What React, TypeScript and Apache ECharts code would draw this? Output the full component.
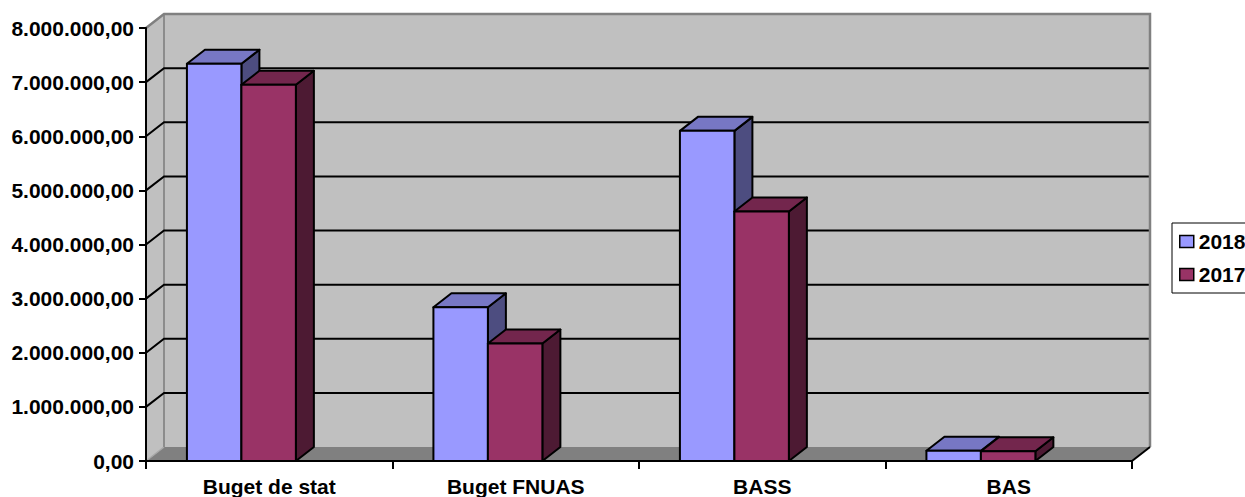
import React, { useEffect, useRef } from "react";
import * as echarts from "echarts";

const categories = ["Buget de stat", "Buget FNUAS", "BASS", "BAS"];
const seriesNames = ["2018", "2017"];
const values2018 = [7340000, 2840000, 6100000, 190000];
const values2017 = [6950000, 2170000, 4610000, 180000];
const yTicks = [0, 1000000, 2000000, 3000000, 4000000, 5000000, 6000000, 7000000, 8000000];

const FONT = "'Liberation Sans', Arial, Helvetica, sans-serif";
const FS = 21;
const DX = 18;
const DY = 14;
const BAR_START = 0.166;
const BAR_W = 0.221;

const palette = [
  { front: "#9999ff", top: "#7777c4", side: "#4d4d80" },
  { front: "#993366", top: "#73264d", side: "#4d1a33" },
];

function fmt(v: number): string {
  return Math.round(v).toString().replace(/\B(?=(\d{3})+(?!\d))/g, ".") + ",00";
}

function barRenderer(sIdx: number) {
  return (params: any, api: any) => {
    const idx = api.value(0);
    const val = api.value(1);
    const base = api.coord([idx, 0]);
    const top = api.coord([idx, val]);
    const band = api.size([1, 0])[0];
    const catStart = base[0] - band / 2;
    const w = band * BAR_W;
    const x0 = catStart + band * (BAR_START + sIdx * BAR_W);
    const yb = base[1];
    const yt = top[1];
    const c = palette[sIdx];
    const stroke = { stroke: "#000", lineWidth: 2, lineJoin: "round" };
    return {
      type: "group",
      children: [
        {
          type: "polygon",
          shape: { points: [[x0 + w, yt], [x0 + w + DX, yt - DY], [x0 + w + DX, yb - DY], [x0 + w, yb]] },
          style: { fill: c.side, ...stroke },
        },
        {
          type: "polygon",
          shape: { points: [[x0, yt], [x0 + w, yt], [x0 + w + DX, yt - DY], [x0 + DX, yt - DY]] },
          style: { fill: c.top, ...stroke },
        },
        {
          type: "rect",
          shape: { x: x0, y: yt, width: w, height: yb - yt },
          style: { fill: c.front, ...stroke },
        },
      ],
    };
  };
}

function backdropRenderer(params: any, api: any) {
  const band = api.size([1, 0])[0];
  const xL = api.coord([0, 0])[0] - band / 2;
  const xR = api.coord([categories.length - 1, 0])[0] + band / 2;
  const yB = api.coord([0, yTicks[0]])[1];
  const yT = api.coord([0, yTicks[yTicks.length - 1]])[1];
  const children: any[] = [];
  children.push({
    type: "rect",
    shape: { x: xL + DX, y: yT - DY, width: xR - xL, height: yB - yT },
    style: { fill: "#c0c0c0" },
  });
  children.push({
    type: "polygon",
    shape: { points: [[xL, yT], [xL + DX, yT - DY], [xL + DX, yB - DY], [xL, yB]] },
    style: { fill: "#c0c0c0" },
  });
  children.push({
    type: "polygon",
    shape: { points: [[xL, yB], [xR, yB], [xR + DX, yB - DY], [xL + DX, yB - DY]] },
    style: { fill: "#808080" },
  });
  children.push({
    type: "line",
    shape: { x1: xL, y1: yB, x2: xL + DX, y2: yB - DY },
    style: { stroke: "#a8a8a8", lineWidth: 1.5 },
  });
  children.push({
    type: "line",
    shape: { x1: xL + DX, y1: yT - DY, x2: xL + DX, y2: yB - DY },
    style: { stroke: "#8c8c8c", lineWidth: 2 },
  });
  for (let i = 1; i < yTicks.length - 1; i++) {
    const y = api.coord([0, yTicks[i]])[1];
    children.push({
      type: "polyline",
      shape: { points: [[xL, y], [xL + DX, y - DY], [xR + DX, y - DY]] },
      style: { stroke: "#000", lineWidth: 2, fill: null },
    });
  }
  children.push({
    type: "polyline",
    shape: { points: [[xL, yT], [xL + DX, yT - DY], [xR + DX, yT - DY], [xR + DX, yB - DY]] },
    style: { stroke: "#808080", lineWidth: 2.5, fill: null },
  });
  children.push({
    type: "line",
    shape: { x1: xR, y1: yB, x2: xR + DX, y2: yB - DY },
    style: { stroke: "#000", lineWidth: 2 },
  });
  return { type: "group", children };
}

export default function App() {
  const ref = useRef<HTMLDivElement>(null);
  useEffect(() => {
    if (!ref.current) return;
    const chart = echarts.init(ref.current, undefined, { renderer: "svg" });
    const dataSets = [values2018, values2017];
    chart.setOption({
      animation: false,
      backgroundColor: "#ffffff",
      textStyle: { fontFamily: FONT },
      grid: { left: 146, right: 113, top: 28, bottom: 36, containLabel: false },
      legend: {
        orient: "vertical",
        left: 1172,
        top: 223,
        padding: [8, 10, 8, 7],
        borderColor: "#000",
        borderWidth: 1,
        itemWidth: 14,
        itemHeight: 12,
        itemGap: 12,
        itemTextGap: 4,
        textStyle: { fontFamily: FONT, fontSize: FS, fontWeight: "bold", color: "#000" },
        data: seriesNames.map((n, i) => ({
          name: n,
          icon: "rect",
          itemStyle: { color: palette[i].front, borderColor: "#000", borderWidth: 1.5 },
        })),
      },
      xAxis: {
        type: "category",
        data: categories,
        boundaryGap: true,
        axisLine: { show: true, lineStyle: { color: "#000", width: 2 } },
        axisTick: { show: true, length: 8, lineStyle: { color: "#000", width: 2 } },
        axisLabel: {
          color: "#000",
          fontFamily: FONT,
          fontSize: FS,
          fontWeight: "bold",
          margin: 15,
          interval: 0,
        },
        splitLine: { show: false },
        z: 3,
      },
      yAxis: {
        type: "value",
        min: 0,
        max: 8000000,
        interval: 1000000,
        axisLine: { show: true, lineStyle: { color: "#000", width: 2 } },
        axisTick: { show: true, length: 7, lineStyle: { color: "#000", width: 2 } },
        axisLabel: {
          color: "#000",
          fontFamily: FONT,
          fontSize: FS,
          fontWeight: "bold",
          margin: 12,
          formatter: (v: number) => fmt(v),
        },
        splitLine: { show: false },
        z: 3,
      },
      series: [
        {
          type: "custom",
          z: 1,
          silent: true,
          renderItem: backdropRenderer,
          data: [[0, 0]],
          encode: { x: 0, y: 1 },
        },
        ...seriesNames.map((n, i) => ({
          name: n,
          type: "custom",
          z: 4,
          itemStyle: { color: palette[i].front },
          renderItem: barRenderer(i),
          encode: { x: 0, y: 1 },
          data: categories.map((c, k) => [k, dataSets[i][k]]),
        })),
      ],
    });
    return () => chart.dispose();
  }, []);
  return (
    <div
      ref={ref}
      style={{ position: "fixed", left: 0, top: 0, width: 1245, height: 497 }}
    />
  );
}
